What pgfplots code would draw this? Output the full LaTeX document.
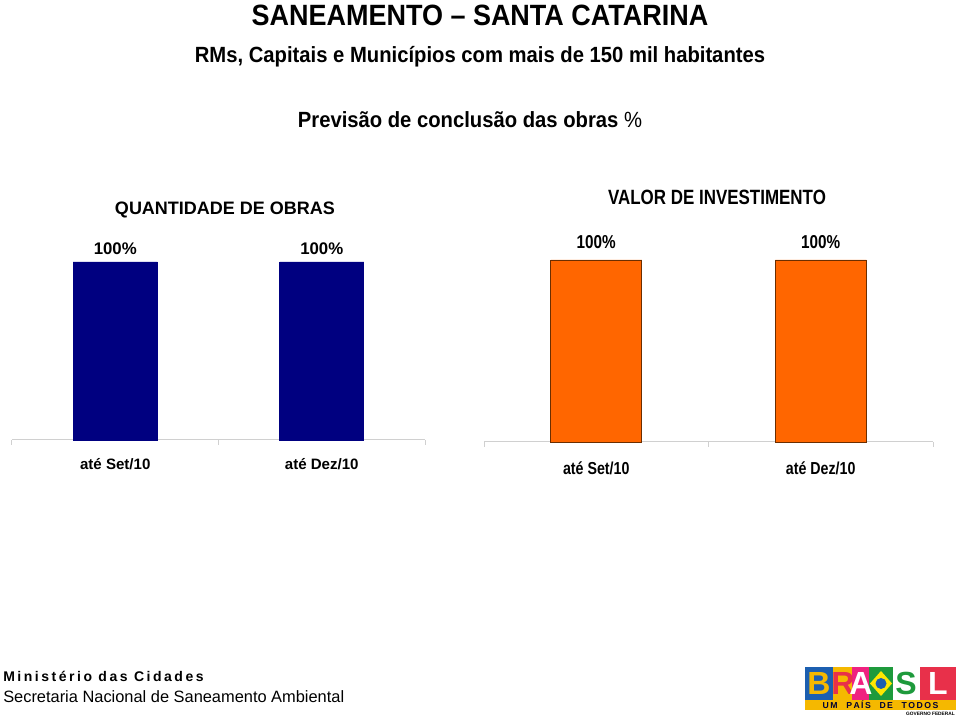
\documentclass[border=0pt]{standalone}
\usepackage{fontspec}
\setmainfont{Liberation Sans}
\newfontfamily\nar[FakeStretch=0.92]{Liberation Sans}
\newfontfamily\narr[FakeStretch=0.82]{Liberation Sans}
\newfontfamily\spc[LetterSpace=18]{Liberation Sans}
\usepackage{pgfplots}
\pgfplotsset{compat=1.18}
\definecolor{navy}{HTML}{000080}
\definecolor{orng}{HTML}{FF6600}
\definecolor{brd}{HTML}{6B2E00}
\definecolor{axgray}{HTML}{D0D0D0}
\definecolor{lblue}{HTML}{1C5FB0}
\definecolor{lyel}{HTML}{F5B800}
\definecolor{lred}{HTML}{E8304A}
\definecolor{lgreen}{HTML}{1E9A3C}
\pgfplotsset{bstyle/.style={
  scale only axis, ybar, ymin=0, ymax=100, xmin=-0.5, xmax=1.5,
  clip=false, hide y axis, axis x line*=bottom,
  /pgf/number format/assume math mode=true,
  x axis line style={-, axgray, line width=0.75pt},
  xtick={-0.5,0.5,1.5}, xticklabels={},
  major tick length=3.75pt, tick align=outside,
  tick style={axgray, line width=0.75pt},
  extra x ticks={0,1}, extra x tick labels={até Set/10, até Dez/10},
  extra x tick style={major tick length=0pt},
  nodes near coords={\pgfmathprintnumber{\pgfplotspointmeta}\%},
  every node near coord/.append style={anchor=base, inner sep=0pt, text=black},
  xticklabel style={anchor=base, inner sep=0pt, text=black},
}}
\begin{document}
\begin{tikzpicture}[x=0.75pt, y=0.75pt]
\path[use as bounding box] (0,0) rectangle (960,716);
% titles
\node[anchor=base, inner sep=0] at (480,690) {\nar\bfseries\fontsize{22pt}{26pt}\selectfont SANEAMENTO – SANTA CATARINA};
\node[anchor=base, inner sep=0] at (480,653.5) {\nar\bfseries\fontsize{16.5pt}{20pt}\selectfont RMs, Capitais e Municípios com mais de 150 mil habitantes};
\node[anchor=base, inner sep=0] at (470,588) {\nar\fontsize{16.5pt}{20pt}\selectfont \textbf{Previsão de conclusão das obras} \%};
% left chart
\node[anchor=base, inner sep=0] at (225,501) {\bfseries\fontsize{13.5pt}{16pt}\selectfont QUANTIDADE DE OBRAS};
\begin{axis}[bstyle, at={(9pt,207pt)}, anchor=south west,
  width=309.75pt, height=133.5pt, bar width=63pt,
  every node near coord/.append style={yshift=5.6pt, font=\bfseries\fontsize{12.6pt}{15pt}\selectfont},
  xticklabel style={yshift=-22.1pt, font=\bfseries\fontsize{11.3pt}{14pt}\selectfont}]
\addplot[fill=navy, draw=navy] coordinates {(0,100) (1,100)};
\end{axis}
% right chart
\node[anchor=base, inner sep=0] at (717,511) {\narr\bfseries\fontsize{15.5pt}{18pt}\selectfont VALOR DE INVESTIMENTO};
\begin{axis}[bstyle, at={(363pt,205.5pt)}, anchor=south west,
  width=336.75pt, height=136.5pt, bar width=68.25pt,
  every node near coord/.append style={yshift=8.8pt, font=\narr\bfseries\fontsize{14pt}{17pt}\selectfont},
  xticklabel style={yshift=-24.4pt, font=\narr\bfseries\fontsize{13pt}{16pt}\selectfont}]
\addplot[fill=orng, draw=brd, line width=0.6pt] coordinates {(0,100) (1,100)};
\end{axis}
% footer
\node[anchor=base west, inner sep=0] at (3,34) {\spc\bfseries\fontsize{10.5pt}{12pt}\selectfont Ministério das Cidades};
\node[anchor=base west, inner sep=0] at (3,13) {\fontsize{12.3pt}{14pt}\selectfont Secretaria Nacional de Saneamento Ambiental};
% logo (simplified)
\fill[lblue] (805,49) rectangle (833,16);
\fill[lyel] (833,49) rectangle (852,16);
\fill[lred!70!magenta] (852,49) rectangle (869,16);
\fill[lgreen] (869,49) rectangle (893,16);
\fill[white] (893,49) rectangle (920,16);
\fill[lred] (920,49) rectangle (956,16);
\fill[yellow!90!orange] (881,45) -- (892,32.5) -- (881,20) -- (870,32.5) -- cycle;
\fill[lblue] (881,32.5) circle (5.5);
\node[inner sep=0, text=lyel] at (819,32.5) {\bfseries\fontsize{24pt}{24pt}\selectfont B};
\node[inner sep=0, text=lred] at (843,32.5) {\bfseries\fontsize{24pt}{24pt}\selectfont R};
\node[inner sep=0, text=white] at (861,32.5) {\bfseries\fontsize{24pt}{24pt}\selectfont A};
\node[inner sep=0, text=lgreen] at (906,32.5) {\bfseries\fontsize{24pt}{24pt}\selectfont S};
\node[inner sep=0, text=white] at (938,32.5) {\bfseries\fontsize{24pt}{24pt}\selectfont L};
\fill[lyel] (805,16) rectangle (956,6);
\node[inner sep=0, text=black!80!blue] at (880.5,10.8) {\bfseries\fontsize{6.5pt}{7pt}\selectfont U\,M\quad P\,A\,Í\,S\quad D\,E\quad T\,O\,D\,O\,S};
\node[inner sep=0, anchor=east] at (955,2.5) {\bfseries\fontsize{3.6pt}{4pt}\selectfont GOVERNO FEDERAL};
\end{tikzpicture}
\end{document}
